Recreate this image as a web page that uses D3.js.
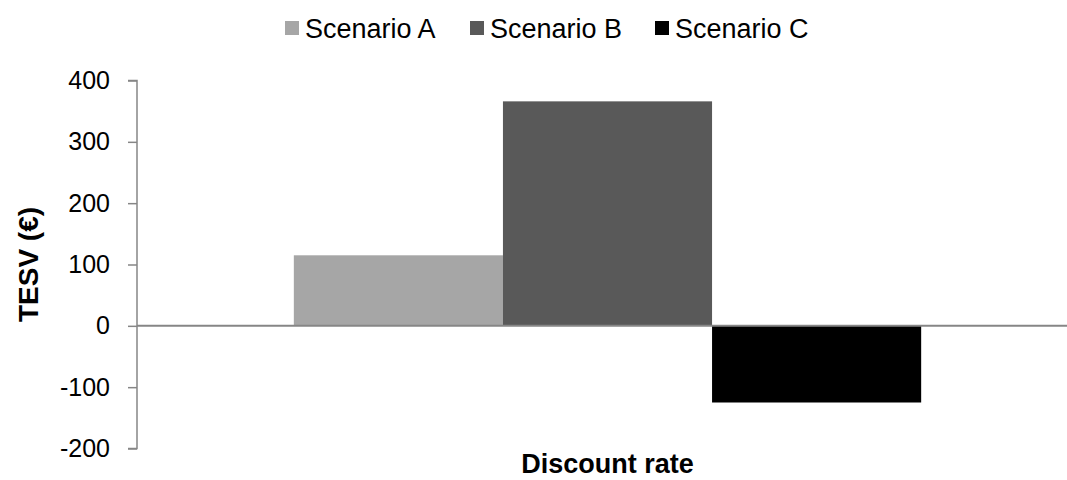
<!DOCTYPE html>
<html>
<head>
<meta charset="utf-8">
<script src="https://cdn.jsdelivr.net/npm/d3@7/dist/d3.min.js"></script>
<style>
  html, body { margin: 0; padding: 0; background: #fff; }
  svg { display: block; font-family: "Liberation Sans", Arial, sans-serif; }
</style>
</head>
<body>
<svg id="chart" width="1067" height="480"></svg>
<script>
// Total economic surplus value per scenario at the discount rate
const categories = ["Discount rate"];
const seriesNames = ["Scenario A", "Scenario B", "Scenario C"];
const seriesValues = [115, 366, -125];
const seriesColors = ["#a6a6a6", "#595959", "#000000"];
const yTicks = [-200, -100, 0, 100, 200, 300, 400];

const svg = d3.select("#chart");
const plot = { left: 137, right: 1078, top: 80.5, bottom: 448.5 };

const y = d3.scaleLinear().domain([-200, 400]).range([plot.bottom, plot.top]);

const x0 = d3.scaleBand()
  .domain(categories)
  .range([plot.left, plot.right])
  .paddingInner(0)
  .paddingOuter(0.25);

const x1 = d3.scaleBand()
  .domain(seriesNames)
  .range([0, x0.bandwidth()])
  .padding(0);

const data = seriesNames.map((name, i) => ({ name, value: seriesValues[i], color: seriesColors[i] }));

// Bars
const g = svg.append("g");
g.selectAll("rect.bar")
  .data(data)
  .join("rect")
  .attr("class", "bar")
  .attr("x", d => x0(categories[0]) + x1(d.name))
  .attr("width", x1.bandwidth())
  .attr("y", d => y(Math.max(0, d.value)))
  .attr("height", d => Math.abs(y(d.value) - y(0)))
  .attr("fill", d => d.color);

// Y axis (plain hyphen for negatives)
const yAxis = d3.axisLeft(y)
  .tickValues(yTicks)
  .tickSize(9)
  .tickPadding(18)
  .tickFormat(d => String(d));

const ya = svg.append("g")
  .attr("transform", `translate(${plot.left},0)`)
  .call(yAxis);
ya.select(".domain").attr("stroke", "#868686").attr("stroke-width", 1.5)
  .attr("d", `M-9,${plot.top}H0V${plot.bottom}H-9`);
ya.selectAll(".tick line").attr("stroke", "#868686").attr("stroke-width", 1.5);
ya.selectAll(".tick text")
  .attr("fill", "#000")
  .style("font-size", "25px")
  .style("font-family", "'Liberation Sans', Arial, sans-serif");

// Zero baseline
svg.append("line")
  .attr("x1", plot.left)
  .attr("x2", plot.right)
  .attr("y1", y(0))
  .attr("y2", y(0))
  .attr("stroke", "#868686")
  .attr("stroke-width", 2);

// Axis titles
svg.append("text")
  .attr("transform", `translate(38,${(plot.top + plot.bottom) / 2}) rotate(-90)`)
  .attr("text-anchor", "middle")
  .style("font-size", "28px")
  .style("font-weight", "bold")
  .text("TESV (€)");

svg.append("text")
  .attr("x", x0(categories[0]) + x0.bandwidth() / 2)
  .attr("y", 473)
  .attr("text-anchor", "middle")
  .style("font-size", "27px")
  .style("font-weight", "bold")
  .text(categories[0]);

// Legend
const legendX = [285, 470, 655];
const legend = svg.append("g");
const items = legend.selectAll("g.item")
  .data(data)
  .join("g")
  .attr("class", "item")
  .attr("transform", (d, i) => `translate(${legendX[i]},21)`);
items.append("rect")
  .attr("width", 14)
  .attr("height", 14)
  .attr("fill", d => d.color);
items.append("text")
  .attr("x", 20)
  .attr("y", 16.5)
  .style("font-size", "27px")
  .text(d => d.name);
</script>
</body>
</html>
